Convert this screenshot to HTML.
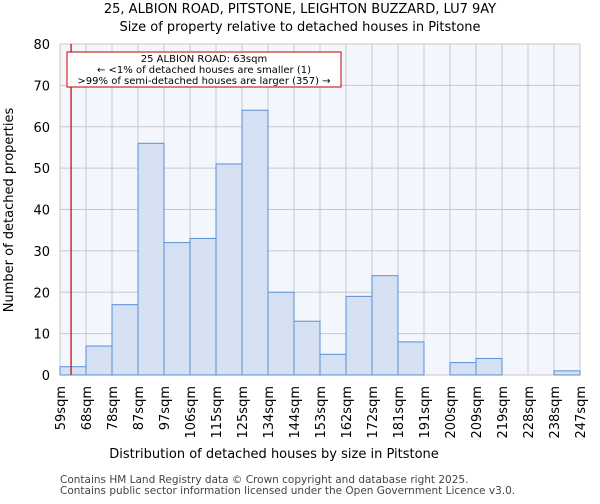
<!DOCTYPE html>
<html><head><meta charset="utf-8"><style>
body{margin:0;background:#fff;font-family:"DejaVu Sans","Liberation Sans",sans-serif}
</style></head><body>
<svg width="600" height="500" font-family="DejaVu Sans, Liberation Sans, sans-serif">
<text x="300" y="13" text-anchor="middle" font-size="13">25, ALBION ROAD, PITSTONE, LEIGHTON BUZZARD, LU7 9AY</text>
<text x="300" y="31" text-anchor="middle" font-size="13">Size of property relative to detached houses in Pitstone</text>
<rect x="60" y="44" width="520" height="331" fill="#f3f6fd"/>
<g id="grid"></g><g id="bars"></g><g id="axes"></g>
<text x="274" y="458" text-anchor="middle" font-size="13">Distribution of detached houses by size in Pitstone</text>
<text transform="translate(13,210) rotate(-90)" text-anchor="middle" font-size="13">Number of detached properties</text>
<line x1="71" y1="44" x2="71" y2="375" stroke="#c00000" stroke-width="1.2" id="marker"/>
<g>
<rect x="67" y="52" width="274" height="35" fill="#fff" stroke="#c00000" stroke-width="1"/>
<text x="204" y="62" text-anchor="middle" font-size="10">25 ALBION ROAD: 63sqm</text>
<text x="204" y="73" text-anchor="middle" font-size="10">← &lt;1% of detached houses are smaller (1)</text>
<text x="204" y="84" text-anchor="middle" font-size="10">&gt;99% of semi-detached houses are larger (357) →</text>
</g>
<text x="60" y="483" font-size="10.5" fill="#444">Contains HM Land Registry data © Crown copyright and database right 2025.</text>
<text x="60" y="494" font-size="10.5" fill="#444">Contains public sector information licensed under the Open Government Licence v3.0.</text>
</svg>
<script>
const binLabels=["59sqm","68sqm","78sqm","87sqm","97sqm","106sqm","115sqm","125sqm","134sqm","144sqm","153sqm","162sqm","172sqm","181sqm","191sqm","200sqm","209sqm","219sqm","228sqm","238sqm","247sqm"];
const counts=[2,7,17,56,32,33,51,64,20,13,5,19,24,8,0,3,4,0,0,1];
const yTicks=[0,10,20,30,40,50,60,70,80];
const propertySize=63;
const binStart=59, binEnd=247;
const NS="http://www.w3.org/2000/svg";
const X0=60,X1=580,Y0=375,Y1=44,YMAX=80;
const bw=(X1-X0)/counts.length;
const x=i=>X0+i*bw;
const y=v=>Y0-(v/YMAX)*(Y0-Y1);
function mk(t,a,p){const e=document.createElementNS(NS,t);for(const k in a)e.setAttribute(k,a[k]);p.appendChild(e);return e;}
const g=document.getElementById('grid'),b=document.getElementById('bars'),ax=document.getElementById('axes');
yTicks.forEach(v=>{
 const l=mk('line',{x1:X0,x2:X1,y1:y(v),y2:y(v),stroke:'#c8c8c8','stroke-width':1},g);
 
 
 const t=mk('text',{x:X0-10,y:y(v)+5,'text-anchor':'end','font-size':13},ax);t.textContent=v;
 
 
});
binLabels.forEach((s,i)=>{
 const l=mk('line',{x1:x(i),x2:x(i),y1:Y1,y2:Y0,stroke:'#c8c8c8','stroke-width':1},g);
 
 
 const t=mk('text',{transform:`translate(${x(i)+5},386) rotate(-90)`,'text-anchor':'end','font-size':13},ax);t.textContent=s;
 
 
});
counts.forEach((v,i)=>{
 if(v<=0)return;
 const r=mk('rect',{x:x(i),y:y(v),width:bw,height:Y0-y(v),fill:'#d6e0f3',stroke:'#5b8fd6','stroke-width':1},b);
 
 
});
const mx=X0+(propertySize-binStart)/((binEnd-binStart)/counts.length)*bw;
const m=document.getElementById('marker');m.setAttribute('x1',mx);m.setAttribute('x2',mx);
</script>
</body></html>
